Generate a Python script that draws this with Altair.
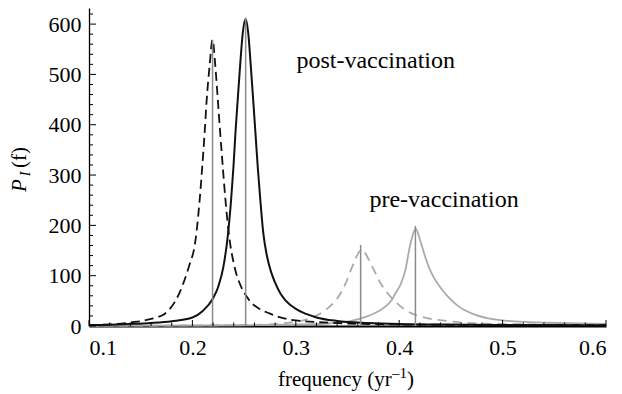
import altair as alt
import pandas as pd

FONT = "Liberation Serif"

# post-vaccination, solid (black)
post_solid_f = [0.10, 0.12, 0.14, 0.16, 0.18, 0.20, 0.21, 0.22, 0.225, 0.23, 0.2345, 0.2374,
                0.2397, 0.2416, 0.2438, 0.2461, 0.2487, 0.2515, 0.2540, 0.2565, 0.2588, 0.2610,
                0.2632, 0.2657, 0.2686, 0.2720, 0.2760, 0.2800, 0.2850, 0.2900, 0.300, 0.310,
                0.320, 0.340, 0.370, 0.40, 0.45, 0.50, 0.55, 0.60]
post_solid_v = [1.5, 2.5, 4, 6, 9.5, 17, 30, 55, 78, 118, 184, 250,
                316, 383, 449, 516, 582, 610, 582, 516, 449, 383,
                316, 250, 184, 140, 108, 86, 65, 51, 34, 24,
                17, 10, 6, 4, 2.8, 2.2, 1.8, 1.5]

# post-vaccination, dashed (black)
post_dash_f = [0.10, 0.12, 0.14, 0.16, 0.1737, 0.183, 0.1866, 0.193, 0.1966, 0.2031, 0.207,
               0.2095, 0.2118, 0.2138, 0.2166, 0.2195, 0.2222, 0.2246, 0.2269, 0.2294, 0.232,
               0.2352, 0.2407, 0.2467, 0.252, 0.2567, 0.265, 0.2744, 0.2936, 0.319, 0.351,
               0.40, 0.50, 0.60]
post_dash_v = [2, 3, 7, 14, 25, 48, 62, 95, 118, 172, 250,
               316, 383, 449, 516, 569, 516, 449, 383, 316, 250,
               184, 118, 80, 60, 47, 34, 25, 13, 8, 5,
               3, 2, 1.5]

# pre-vaccination, dashed (grey)
pre_dash_f = [0.10, 0.20, 0.25, 0.2744, 0.2936, 0.313, 0.329, 0.3402, 0.3483, 0.3546, 0.3636,
              0.3739, 0.382, 0.39, 0.3996, 0.4093, 0.422, 0.438, 0.448, 0.457, 0.476, 0.52,
              0.56, 0.60]
pre_dash_v = [0.5, 1.2, 2, 3, 6.6, 15, 32, 55, 85, 118, 151,
              118, 85, 62, 42, 28, 18, 12, 9.5, 7.5, 5, 3.5,
              2.5, 2]

# pre-vaccination, solid (grey)
pre_solid_f = [0.10, 0.20, 0.25, 0.30, 0.332, 0.3514, 0.3675, 0.3835, 0.393, 0.3964, 0.4012,
               0.406, 0.4103, 0.4162, 0.4200, 0.4240, 0.4285, 0.4330, 0.4380, 0.4430, 0.4478,
               0.4574, 0.47, 0.4863, 0.5024, 0.5217, 0.544, 0.573, 0.60]
pre_solid_v = [0.5, 1, 1.5, 3, 5, 9, 18, 34, 52, 65, 82,
               111, 158, 193, 172, 145, 118, 98, 82, 68, 57,
               39, 25, 15, 10.6, 8, 6.5, 5, 4]

# vertical marker lines at the peak frequencies
peak_f = [0.2195, 0.2515, 0.3627, 0.4157]
peak_top = [569, 613, 161, 199]

# axis ticks
x_major = [0.1, 0.2, 0.3, 0.4, 0.5, 0.6]
x_minor = [0.12, 0.14, 0.16, 0.18, 0.22, 0.24, 0.26, 0.28, 0.32, 0.34, 0.36, 0.38,
           0.42, 0.44, 0.46, 0.48, 0.52, 0.54, 0.56, 0.58]
y_major = [0, 100, 200, 300, 400, 500, 600]
y_minor = [20, 40, 60, 80, 120, 140, 160, 180, 220, 240, 260, 280, 320, 340, 360, 380,
           420, 440, 460, 480, 520, 540, 560, 580, 620]

# annotations
label_text = ["post-vaccination", "pre-vaccination"]
label_f = [0.3773, 0.4434]
label_v = [513, 237]

xscale = alt.Scale(domain=[0.1, 0.6], nice=False, zero=False)
yscale = alt.Scale(domain=[0, 632], nice=False, zero=True)
xaxis = alt.Axis(values=x_major, format=".1f", title=None,
                 labelFont=FONT, labelFontSize=22, labelColor="black", labelPadding=11,
                 ticks=False, tickSize=0, grid=False, domainColor="black", domainWidth=1.8)
yaxis = alt.Axis(values=y_major, format="d", title=None,
                 labelFont=FONT, labelFontSize=22, labelColor="black", labelPadding=8,
                 ticks=False, tickSize=0, grid=False, domainColor="black", domainWidth=1.3)


def X(field="f"):
    return alt.X(f"{field}:Q", scale=xscale, axis=xaxis)


def Y(field="v"):
    return alt.Y(f"{field}:Q", scale=yscale, axis=yaxis)


def curve(f, v, color, width, dash=None):
    df = pd.DataFrame({"f": f, "v": v})
    kw = dict(color=color, strokeWidth=width, interpolate="monotone")
    if dash is not None:
        kw["strokeDash"] = dash
    return alt.Chart(df).mark_line(**kw).encode(x=X(), y=Y())


pre_solid = curve(pre_solid_f, pre_solid_v, "#aaaaaa", 1.8)
pre_dash = curve(pre_dash_f, pre_dash_v, "#aaaaaa", 1.8, [9, 6])
post_dash = curve(post_dash_f, post_dash_v, "#111111", 1.8, [9, 5])
post_solid = curve(post_solid_f, post_solid_v, "#111111", 2.0)

vl_df = pd.DataFrame({"f": peak_f, "v": [0] * len(peak_f), "top": peak_top})
vlines = alt.Chart(vl_df).mark_rule(color="#8a8a8a", strokeWidth=1.5).encode(
    x=X(), y=Y(), y2=alt.Y2("top"))


def xticks(vals, length):
    df = pd.DataFrame({"f": vals, "v": [0] * len(vals)})
    return alt.Chart(df).mark_rule(color="black", strokeWidth=1, y2Offset=-length).encode(
        x=X(), y=Y(), y2=alt.Y2("v"))


def yticks(vals, length):
    df = pd.DataFrame({"v": vals, "f": [0.1] * len(vals)})
    return alt.Chart(df).mark_rule(color="black", strokeWidth=1, x2Offset=length).encode(
        x=X(), x2=alt.X2("f"), y=Y())


lab_df = pd.DataFrame({"f": label_f, "v": label_v, "t": label_text})
labels = alt.Chart(lab_df).mark_text(font=FONT, fontSize=24, color="black",
                                     align="center", baseline="alphabetic").encode(
    x=X(), y=Y(), text="t:N")


def title_piece(text, x, y, size, angle=0, italic=False, align="left"):
    kw = dict(font=FONT, fontSize=size, color="black", align=align, baseline="alphabetic")
    if angle:
        kw["angle"] = angle
    if italic:
        kw["fontStyle"] = "italic"
    return alt.Chart(pd.DataFrame({"t": [text]})).mark_text(**kw).encode(
        x=alt.value(x), y=alt.value(y), text="t:N")


# y-axis title: P_I (f)
ytitle = [
    title_piece("P", -63, 177.5, 21, angle=270, italic=True, align="center"),
    title_piece("I", -59, 166, 14, angle=270, italic=True, align="center"),
    title_piece("(f)", -63, 149.5, 21, angle=270, align="center"),
]
# x-axis title: frequency (yr^-1)
xtitle = [
    title_piece("frequency (yr", 189, 378, 21),
    title_piece("\u20131", 303, 370, 15),
    title_piece(")", 318, 378, 21),
]

chart = alt.layer(
    pre_solid, pre_dash, post_dash, post_solid, vlines,
    xticks(x_major, 6), xticks(x_minor, 3.5), yticks(y_major, 7), yticks(y_minor, 4),
    labels, *ytitle, *xtitle,
).properties(
    width=517, height=318,
    padding={"left": 89, "top": 8, "right": 16, "bottom": 68},
    autosize=alt.AutoSizeParams(type="none"),
    background="white",
).configure_view(stroke=None)

chart.save("out.html", embed_options={"renderer": "svg", "actions": False})
